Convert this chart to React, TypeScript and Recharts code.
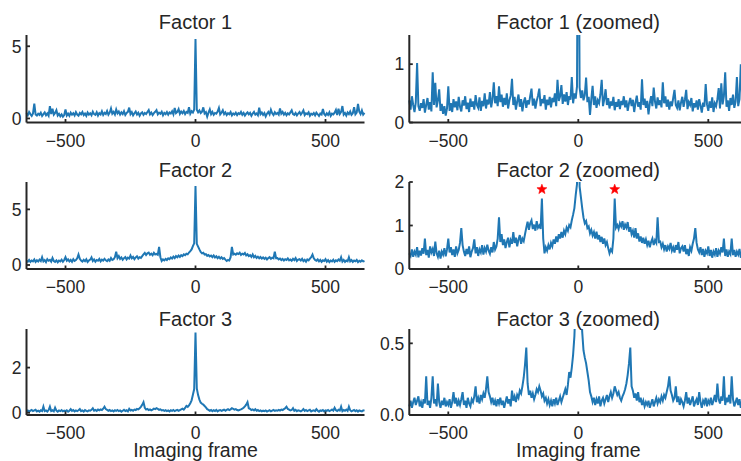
import React from 'react';
import { LineChart, Line, XAxis, YAxis, ReferenceDot } from 'recharts';

// ---- data (imaging frame -650 .. 650, every 5 frames) ----
const FRAME_START = -650;
const FRAME_STEP = 5;

const factor1 = [
  0.38, 0.22, 0.45, 0.30, 0.18, 0.35, 1.02, 0.28, 0.20, 0.33,
  0.25, 0.40, 0.17, 0.30, 0.42, 0.22, 0.35, 0.19, 0.86, 0.30,
  0.68, 0.26, 0.38, 0.57, 0.20, 0.32, 0.15, 0.28, 0.12, 0.24,
  0.62, 0.20, 0.33, 0.18, 0.40, 0.26, 0.36, 0.21, 0.44, 0.27,
  0.19, 0.38, 0.29, 0.45, 0.23, 0.34, 0.18, 0.41, 0.27, 0.36,
  0.22, 0.47, 0.30, 0.25, 0.43, 0.20, 0.37, 0.28, 0.50, 0.24,
  0.39, 0.31, 0.52, 0.26, 0.40, 0.69, 0.33, 0.45, 0.28, 0.62,
  0.35, 0.48, 0.27, 0.42, 0.30, 0.50, 0.24, 0.38, 0.46, 0.75,
  0.30, 0.44, 0.22, 0.36, 0.48, 0.27, 0.40, 0.19, 0.35, 0.43,
  0.25, 0.38, 0.31, 0.45, 0.58, 0.29, 0.41, 0.24, 0.37, 0.46,
  0.58, 0.28, 0.40, 0.33, 0.47, 0.22, 0.39, 0.30, 0.44, 0.26,
  0.42, 0.35, 0.50, 0.28, 0.73, 0.37, 0.45, 0.64, 0.32, 0.48,
  0.36, 0.52, 0.30, 0.45, 0.39, 0.78, 0.33, 0.50, 0.41, 0.62,
  5.50,
  0.60, 0.42, 0.55, 0.38, 0.47, 0.77, 0.35, 0.44, 0.13, 0.40,
  0.63, 0.30, 0.45, 0.25, 0.38, 0.33, 0.48, 0.73, 0.28, 0.40,
  0.57, 0.30, 0.42, 0.24, 0.36, 0.29, 0.44, 0.21, 0.35, 0.27,
  0.40, 0.23, 0.37, 0.30, 0.45, 0.26, 0.38, 0.20, 0.33, 0.42,
  0.28, 0.39, 0.18, 0.34, 0.46, 0.27, 0.35, 0.22, 0.74, 0.30,
  0.41, 0.25, 0.37, 0.14, 0.33, 0.45, 0.28, 0.60, 0.36, 0.24,
  0.43, 0.30, 0.38, 0.26, 0.69, 0.33, 0.45, 0.27, 0.39, 0.22,
  0.36, 0.28, 0.42, 0.56, 0.30, 0.25, 0.38, 0.21, 0.34, 0.44,
  0.27, 0.39, 0.56, 0.23, 0.35, 0.30, 0.42, 0.19, 0.33, 0.26,
  0.38, 0.22, 0.40, 0.29, 0.17, 0.34, 0.27, 0.66, 0.31, 0.20,
  0.36, 0.25, 0.43, 0.18, 0.33, 0.28, 0.40, 0.59, 0.24, 0.67,
  0.31, 0.45, 0.86, 0.27, 0.38, 0.20, 0.42, 0.30, 0.48, 0.25,
  0.36, 0.78, 0.28, 0.40, 1.00, 0.47, 0.30, 0.55, 0.26, 0.38,
];

const factor2 = [
  0.36, 0.30, 0.45, 0.28, 0.40, 0.33, 0.50, 0.27, 0.42, 0.31,
  0.48, 0.35, 0.70, 0.32, 0.44, 0.26, 0.52, 0.38, 0.46, 0.30,
  0.63, 0.36, 0.28, 0.42, 0.24, 0.40, 0.33, 0.48, 0.29, 0.45,
  0.70, 0.38, 0.50, 0.32, 0.45, 0.28, 0.52, 0.36, 0.44, 0.60,
  0.94, 0.55, 0.40, 0.30, 0.46, 0.34, 0.52, 0.27, 0.40, 0.48,
  0.68, 0.36, 0.50, 0.30, 0.45, 0.38, 0.55, 0.33, 0.48, 0.40,
  0.56, 0.42, 0.35, 0.50, 0.38, 0.62, 0.45, 0.52, 0.70, 1.19,
  0.62, 0.80, 0.55, 0.68, 0.48, 0.62, 0.72, 0.50, 0.66, 0.58,
  0.85, 0.60, 0.72, 0.52, 0.68, 0.78, 0.58, 0.70, 0.64, 0.80,
  0.95, 1.09, 0.90, 1.05, 1.12, 0.92, 1.02, 0.88, 1.10, 0.95,
  1.00, 0.92, 1.62, 0.70, 0.36, 0.50, 0.42, 0.55, 0.45, 0.60,
  0.52, 0.68, 0.58, 0.75, 0.62, 0.80, 0.70, 0.85, 0.72, 0.88,
  0.80, 0.95, 0.88, 1.01, 0.96, 1.12, 1.25, 1.40, 1.70, 1.95,
  7.10,
  1.90, 1.65, 1.40, 1.18, 1.05, 1.10, 0.94, 0.98, 0.82, 0.90,
  0.77, 0.85, 0.70, 0.86, 0.68, 0.78, 0.62, 0.74, 0.58, 0.70,
  0.55, 0.62, 0.48, 0.36, 0.45, 0.40, 0.70, 1.62, 0.95, 1.01,
  0.92, 1.05, 0.98, 1.10, 0.90, 1.02, 0.95, 1.08, 0.86, 0.96,
  0.80, 0.88, 0.72, 0.94, 0.70, 0.82, 0.63, 0.75, 0.60, 0.72,
  0.58, 0.68, 0.55, 0.65, 0.50, 0.62, 0.70, 0.55, 0.66, 0.60,
  1.19, 0.62, 0.63, 0.50, 0.58, 0.45, 0.55, 0.40, 0.52, 0.46,
  0.60, 0.42, 0.50, 0.38, 0.55, 0.44, 0.62, 0.36, 0.48, 0.52,
  0.40, 0.55, 0.34, 0.46, 0.30, 0.50, 0.42, 0.58, 0.70, 0.94,
  0.60, 0.45, 0.38, 0.50, 0.32, 0.46, 0.28, 0.42, 0.36, 0.52,
  0.30, 0.44, 0.26, 0.40, 0.33, 0.48, 0.28, 0.42, 0.35, 0.50,
  0.38, 0.70, 0.30, 0.45, 0.28, 0.40, 0.34, 0.70, 0.32, 0.44,
  0.28, 0.40, 0.33, 0.46, 0.26, 0.38, 0.30, 0.42, 0.32, 0.36,
];

const factor3 = [
  0.06, 0.10, 0.05, 0.09, 0.12, 0.07, 0.10, 0.13, 0.06, 0.09,
  0.05, 0.11, 0.08, 0.27, 0.07, 0.10, 0.05, 0.12, 0.27, 0.08,
  0.11, 0.06, 0.22, 0.09, 0.05, 0.10, 0.07, 0.12, 0.06, 0.09,
  0.07, 0.11, 0.05, 0.09, 0.16, 0.08, 0.12, 0.06, 0.10, 0.07,
  0.11, 0.16, 0.07, 0.10, 0.05, 0.12, 0.08, 0.06, 0.11, 0.09,
  0.13, 0.20, 0.09, 0.12, 0.08, 0.14, 0.11, 0.15, 0.12, 0.18,
  0.27, 0.16, 0.13, 0.09, 0.12, 0.07, 0.10, 0.06, 0.11, 0.08,
  0.12, 0.07, 0.10, 0.05, 0.09, 0.13, 0.08, 0.11, 0.06, 0.17,
  0.10, 0.13, 0.09, 0.14, 0.12, 0.17, 0.15, 0.20, 0.26, 0.35,
  0.47, 0.22, 0.14, 0.17, 0.12, 0.15, 0.11, 0.14, 0.18, 0.16,
  0.20, 0.17, 0.13, 0.15, 0.10, 0.12, 0.08, 0.11, 0.07, 0.10,
  0.06, 0.11, 0.08, 0.12, 0.07, 0.10, 0.13, 0.09, 0.12, 0.15,
  0.18, 0.14, 0.21, 0.30, 0.26, 0.33, 0.42, 0.55, 0.80, 1.05,
  3.55,
  1.08, 0.78, 0.58, 0.45, 0.40, 0.36, 0.30, 0.24, 0.16, 0.13,
  0.09, 0.12, 0.07, 0.11, 0.08, 0.13, 0.06, 0.10, 0.12, 0.08,
  0.11, 0.14, 0.09, 0.13, 0.16, 0.12, 0.15, 0.20, 0.17, 0.14,
  0.16, 0.12, 0.10, 0.13, 0.15, 0.18, 0.22, 0.28, 0.36, 0.47,
  0.20, 0.17, 0.12, 0.15, 0.10, 0.16, 0.09, 0.12, 0.07, 0.10,
  0.06, 0.09, 0.07, 0.10, 0.05, 0.08, 0.11, 0.06, 0.09, 0.12,
  0.08, 0.11, 0.09, 0.13, 0.10, 0.14, 0.12, 0.16, 0.20, 0.27,
  0.17, 0.14, 0.10, 0.12, 0.20, 0.09, 0.13, 0.07, 0.11, 0.09,
  0.06, 0.10, 0.16, 0.08, 0.12, 0.07, 0.10, 0.13, 0.06, 0.09,
  0.11, 0.07, 0.16, 0.09, 0.05, 0.10, 0.08, 0.12, 0.06, 0.10,
  0.08, 0.12, 0.07, 0.10, 0.14, 0.09, 0.22, 0.11, 0.08, 0.13,
  0.10, 0.27, 0.07, 0.12, 0.09, 0.14, 0.08, 0.27, 0.11, 0.06,
  0.09, 0.12, 0.07, 0.11, 0.05, 0.10, 0.08, 0.06, 0.11, 0.09,
];

const frames = factor1.map((_, i) => FRAME_START + FRAME_STEP * i);

const xTicks = [-500, 0, 500];
const leftYTicks = [[0, 5], [0, 5], [0, 2]];
const rightYTicks = [[0, 1], [0, 1, 2], [0, 0.5]];
const factorNames = ['Factor 1', 'Factor 2', 'Factor 3'];
const starFrames = [-140, 140];
const starLevel = 1.83;
const xLabel = 'Imaging frame';

const rows = frames.map((f, i) => ({
  frame: f,
  f1: factor1[i],
  f2: factor2[i],
  f3: factor3[i],
}));

// ---- styling / layout ----
const FONT = '"Liberation Sans", Arial, Helvetica, sans-serif';
const INK = '#262626';
const BLUE = '#1f77b4';
const CW = 760;
const CH = 461;
const TICK_FS = 17.5;
const TITLE_FS = 20;
const LABEL_FS = 19.5;
const AX_W = 40; // space reserved for y axis
const AX_H = 40; // space reserved for x axis

const rowGeo = [
  { top: 35, bottom: 122.5, titleY: 28.5 },
  { top: 182, bottom: 269, titleY: 176.5 },
  { top: 329, bottom: 415, titleY: 325.5 },
];
const colGeo = [
  { left: 26.5, right: 364.5 },
  { left: 409.3, right: 747.3 },
];
const leftDomains: [number, number][] = [[-0.28, 5.78], [-0.36, 7.46], [-0.1, 3.71]];
const rightDomains: [number, number][] = [[0, 1.5], [0, 2], [0, 0.6]];
const keys = ['f1', 'f2', 'f3'];

const fmtX = (v: number) => (v < 0 ? '\u2212' + Math.abs(v) : String(v));

function starPath(cx: number, cy: number, ro: number, ri: number) {
  let d = '';
  for (let k = 0; k < 10; k++) {
    const r = k % 2 === 0 ? ro : ri;
    const a = -Math.PI / 2 + (k * Math.PI) / 5;
    d += (k === 0 ? 'M' : 'L') + (cx + r * Math.cos(a)).toFixed(2) + ',' + (cy + r * Math.sin(a)).toFixed(2);
  }
  return d + 'Z';
}

function Panel({ r, c }: { r: number; c: number }) {
  const rg = rowGeo[r];
  const cg = colGeo[c];
  const zoomed = c === 1;
  const domain = zoomed ? rightDomains[r] : leftDomains[r];
  const yTicks = zoomed ? rightYTicks[r] : leftYTicks[r];
  const fmtY = (v: number) => (zoomed && r === 2 ? v.toFixed(1) : String(v));
  const margin = {
    top: rg.top,
    bottom: CH - rg.bottom - AX_H,
    left: cg.left - AX_W,
    right: CW - cg.right,
  };

  const YTick = (p: any) => {
    const { x, y, payload } = p;
    return (
      <g>
        <line x1={x} x2={x + 3.5} y1={y} y2={y} stroke={INK} strokeWidth={1.8} />
        <text x={x - 5} y={y} dy="0.36em" textAnchor="end" fill={INK} fontSize={TICK_FS} fontFamily={FONT}>
          {fmtY(payload.value)}
        </text>
      </g>
    );
  };
  const XTick = (p: any) => {
    const { x, y, payload } = p;
    return (
      <g>
        <line x1={x} x2={x} y1={y} y2={y - 3.5} stroke={INK} strokeWidth={1.8} />
        <text x={x} y={y + 24} textAnchor="middle" fill={INK} fontSize={TICK_FS} fontFamily={FONT}>
          {fmtX(payload.value)}
        </text>
      </g>
    );
  };

  return (
    <div style={{ position: 'absolute', left: 0, top: 0 }}>
      <LineChart width={CW} height={CH} data={rows} margin={margin}>
        <XAxis
          dataKey="frame"
          type="number"
          domain={[FRAME_START, -FRAME_START]}
          ticks={xTicks}
          height={AX_H}
          tickSize={0}
          tickMargin={0}
          tickLine={false}
          axisLine={{ stroke: INK, strokeWidth: 2 }}
          tick={XTick}
          interval={0}
        />
        <YAxis
          type="number"
          domain={domain}
          allowDataOverflow
          ticks={yTicks}
          width={AX_W}
          tickSize={0}
          tickMargin={0}
          tickLine={false}
          axisLine={{ stroke: INK, strokeWidth: 2 }}
          tick={YTick}
          interval={0}
        />
        <Line
          dataKey={keys[r]}
          type="linear"
          stroke={BLUE}
          strokeWidth={2}
          dot={false}
          isAnimationActive={false}
        />
        {zoomed && r === 1
          ? starFrames.map((sf) => (
              <ReferenceDot
                key={sf}
                x={sf}
                y={starLevel}
                r={5}
                isFront
                shape={(p: any) => <path d={starPath(p.cx, p.cy, 5.2, 2.2)} fill="#ff0000" stroke="#ff0000" strokeWidth={0.6} />}
              />
            ))
          : null}
      </LineChart>
    </div>
  );
}

export default function App() {
  return (
    <div
      style={{
        position: 'absolute',
        left: 0,
        top: 0,
        width: 741,
        height: 461,
        overflow: 'hidden',
        background: '#ffffff',
      }}
    >
      {[0, 1, 2].map((r) => [0, 1].map((c) => <Panel key={r + '-' + c} r={r} c={c} />))}
      <svg width={741} height={461} style={{ position: 'absolute', left: 0, top: 0, pointerEvents: 'none' }}>
        {[0, 1, 2].map((r) =>
          [0, 1].map((c) => {
            const cg = colGeo[c];
            return (
              <text
                key={'t' + r + c}
                x={(cg.left + cg.right) / 2}
                y={rowGeo[r].titleY}
                textAnchor="middle"
                fill={INK}
                fontSize={TITLE_FS}
                fontFamily={FONT}
              >
                {factorNames[r] + (c === 1 ? ' (zoomed)' : '')}
              </text>
            );
          })
        )}
        {[0, 1].map((c) => (
          <text
            key={'xl' + c}
            x={(colGeo[c].left + colGeo[c].right) / 2}
            y={456.5}
            textAnchor="middle"
            fill={INK}
            fontSize={LABEL_FS}
            fontFamily={FONT}
          >
            {xLabel}
          </text>
        ))}
      </svg>
    </div>
  );
}
